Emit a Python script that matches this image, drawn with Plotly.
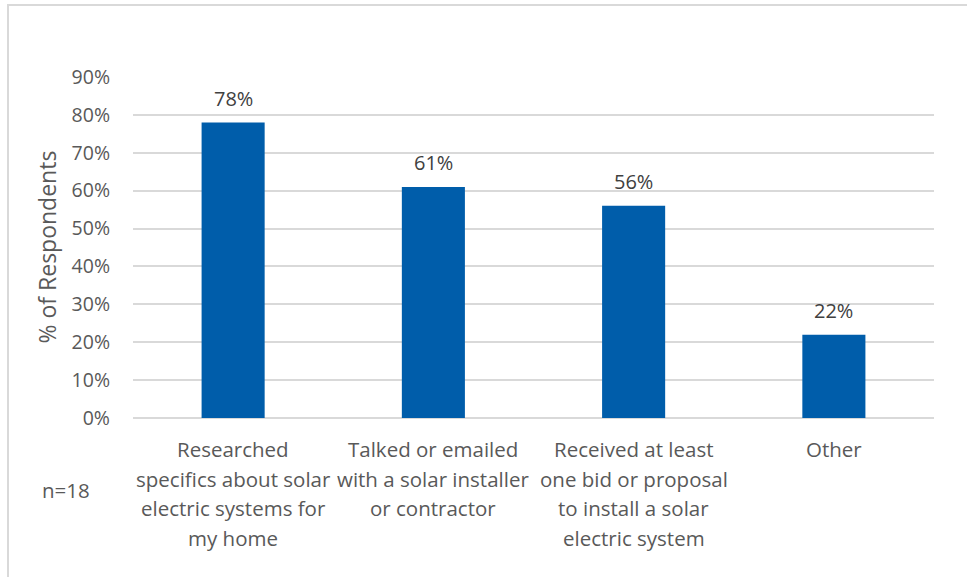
import plotly.graph_objects as go

# Survey results: share of respondents taking each step
categories = [
    "Researched<br>specifics about solar<br>electric systems for<br>my home",
    "Talked or emailed<br>with a solar installer<br>or contractor",
    "Received at least<br>one bid or proposal<br>to install a solar<br>electric system",
    "Other",
]
values = [78, 61, 56, 22]
labels = ["78%", "61%", "56%", "22%"]
y_ticks = [0, 10, 20, 30, 40, 50, 60, 70, 80, 90]
y_tick_labels = ["0%", "10%", "20%", "30%", "40%", "50%", "60%", "70%", "80%", "90%"]
sample_note = "n=18"

W, H = 967, 577
L, R, T, B = 133, 33, 77, 159
pw, ph = W - L - R, H - T - B

FONT = "Open Sans, sans-serif"
GREY = "#595959"

fig = go.Figure(
    go.Bar(
        x=categories,
        y=values,
        marker=dict(color="#005DAA", line=dict(width=0)),
        width=0.315,
        hoverinfo="x+y",
    )
)

annotations = []

# value labels above each bar
for cat, val, lab in zip(categories, values, labels):
    annotations.append(
        dict(
            x=cat, y=val, xref="x", yref="y",
            text=lab, showarrow=False,
            xanchor="center", yanchor="middle", yshift=24,
            font=dict(family=FONT, size=20, color="#404040"),
        )
    )

# multi-line category labels under the axis, with wider line spacing
LINE_GAP = 29.5
for cat in categories:
    for i, line in enumerate(cat.split("<br>")):
        annotations.append(
            dict(
                x=cat, y=0, xref="x", yref="y",
                text=line, showarrow=False,
                xanchor="center", yanchor="middle",
                yshift=-(31 + i * LINE_GAP),
                font=dict(family=FONT, size=20.5, color=GREY),
            )
        )

annotations.append(
    dict(
        text=sample_note,
        xref="paper", yref="paper",
        x=(66 - L) / pw, y=-(490 - T - ph) / ph,
        xanchor="center", yanchor="middle",
        showarrow=False,
        font=dict(family=FONT, size=20.5, color=GREY),
    )
)

# rotated axis title placed at a fixed spot left of the tick labels
annotations.append(
    dict(
        text="% of Respondents",
        xref="paper", yref="paper",
        x=(46 - L) / pw, y=0.5,
        xanchor="center", yanchor="middle",
        textangle=-90,
        showarrow=False,
        font=dict(family=FONT, size=23, color=GREY),
    )
)

fig.update_layout(
    width=W,
    height=H,
    margin=dict(l=L, r=R, t=T, b=B),
    paper_bgcolor="white",
    plot_bgcolor="white",
    showlegend=False,
    font=dict(family=FONT, color=GREY),
    xaxis=dict(
        showgrid=False,
        showline=False,
        ticks="",
        showticklabels=False,
    ),
    yaxis=dict(
        range=[0, 90],
        tickvals=y_ticks,
        ticktext=y_tick_labels,
        showgrid=True,
        gridcolor="#D9D9D9",
        gridwidth=1.5,
        zeroline=True,
        zerolinecolor="#D9D9D9",
        zerolinewidth=1.5,
        showline=False,
        ticks="",
        tickfont=dict(family=FONT, size=19.5, color=GREY),
        ticklabelstandoff=22,
    ),
    shapes=[
        dict(
            type="rect",
            xref="paper",
            yref="paper",
            x0=(8 - L) / pw,
            x1=(W + 5 - L) / pw,
            y0=-(H + 5 - T - ph) / ph,
            y1=1 + (T - 5) / ph,
            line=dict(color="#D9D9D9", width=2),
            fillcolor="rgba(0,0,0,0)",
            layer="below",
        )
    ],
    annotations=annotations,
)

fig.write_html("out.html")
